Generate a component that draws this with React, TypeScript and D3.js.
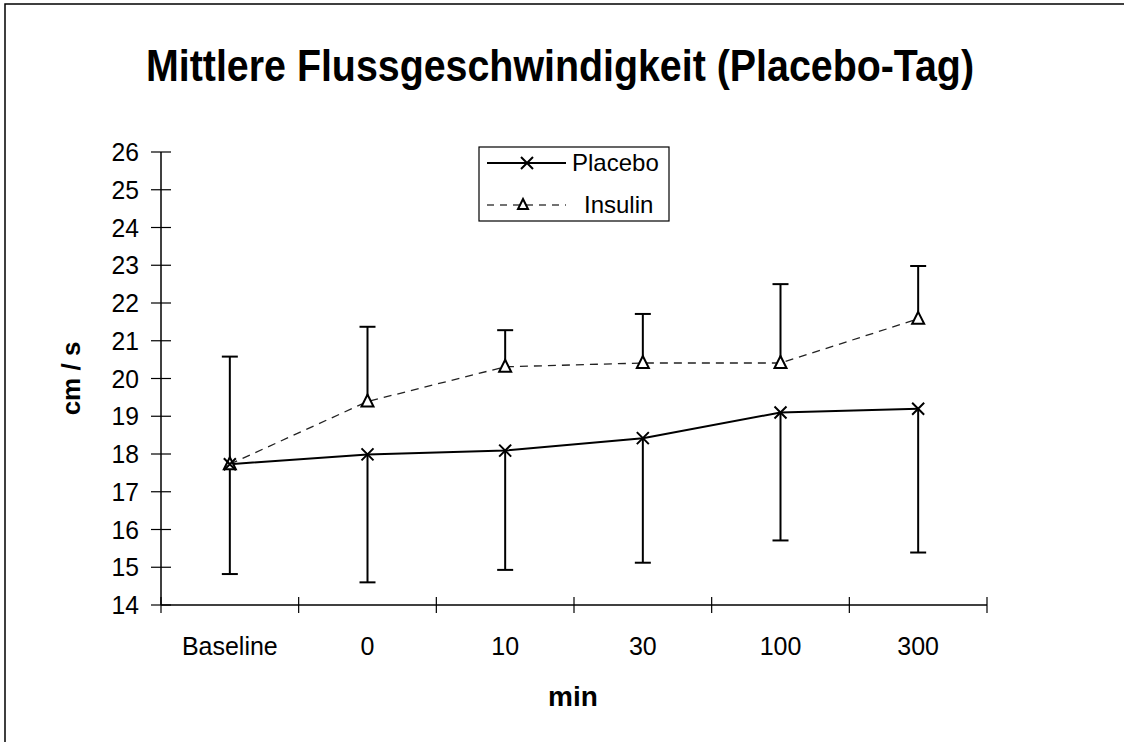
import React from "react";
import * as d3 from "d3";

const categories = ["Baseline", "0", "10", "30", "100", "300"];
const placebo = [17.73, 17.99, 18.09, 18.42, 19.1, 19.2];
const insulin = [17.73, 19.39, 20.31, 20.41, 20.41, 21.58];
// Placebo error bars go down, insulin error bars go up
const placeboLow = [14.82, 14.6, 14.93, 15.12, 15.71, 15.39];
const insulinHigh = [20.58, 21.37, 21.28, 21.71, 22.5, 22.98];
const yTicks = [14, 15, 16, 17, 18, 19, 20, 21, 22, 23, 24, 25, 26];

const W = 1124;
const H = 742;
const plot = { left: 161, right: 987, top: 152, bottom: 605 };
const font = "Arial, 'Liberation Sans', sans-serif";

const Cross = ({ x, y, s = 6 }: { x: number; y: number; s?: number }) => (
  <path
    d={`M${x - s},${y - s}L${x + s},${y + s}M${x - s},${y + s}L${x + s},${y - s}`}
    stroke="#000"
    strokeWidth={2}
  />
);

const Tri = ({ x, y, s = 6 }: { x: number; y: number; s?: number }) => (
  <path
    d={`M${x},${y - s - 1}L${x + s},${y + s - 1}L${x - s},${y + s - 1}Z`}
    fill="#fff"
    stroke="#000"
    strokeWidth={2}
  />
);

export default function App() {
  const x = d3
    .scaleBand()
    .domain(categories)
    .range([plot.left, plot.right])
    .padding(0);
  const y = d3.scaleLinear().domain([14, 26]).range([plot.bottom, plot.top]);
  const cx = (c: string) => (x(c) as number) + x.bandwidth() / 2;

  const line = d3
    .line<number>()
    .x((_, i) => cx(categories[i]))
    .y((d) => y(d));

  const bounds = categories.map((c) => x(c) as number).concat([plot.right]);

  return (
    <svg
      width={W}
      height={H}
      style={{ position: "absolute", left: 0, top: 0, background: "#fff", overflow: "hidden" }}
    >
      <rect x={5} y={4} width={1300} height={900} fill="#fff" stroke="#000" strokeWidth={1.5} />

      <text
        x={560}
        y={81}
        textAnchor="middle"
        fontFamily={font}
        fontWeight="bold"
        fontSize={44}
        textLength={828}
        lengthAdjust="spacingAndGlyphs"
      >
        Mittlere Flussgeschwindigkeit (Placebo-Tag)
      </text>

      {/* y axis */}
      <line x1={plot.left} x2={plot.left} y1={plot.top} y2={plot.bottom} stroke="#000" strokeWidth={1.5} />
      {yTicks.map((t) => (
        <g key={t}>
          <line x1={plot.left - 10} x2={plot.left + 10} y1={y(t)} y2={y(t)} stroke="#000" strokeWidth={1.2} />
          <text
            transform={`translate(139, ${y(t) + 9}) scale(0.95, 1)`}
            textAnchor="end"
            fontFamily={font}
            fontSize={26}
          >
            {t}
          </text>
        </g>
      ))}

      {/* x axis */}
      <line x1={plot.left} x2={plot.right} y1={plot.bottom} y2={plot.bottom} stroke="#000" strokeWidth={1.5} />
      {bounds.map((b, i) => (
        <line key={i} x1={b} x2={b} y1={plot.bottom - 8} y2={plot.bottom + 8} stroke="#000" strokeWidth={1.2} />
      ))}
      {categories.map((c) => (
        <text key={c} x={cx(c)} y={655} textAnchor="middle" fontFamily={font} fontSize={25}>
          {c}
        </text>
      ))}

      <text x={573} y={706} textAnchor="middle" fontFamily={font} fontWeight="bold" fontSize={28}>
        min
      </text>
      <text
        transform={`translate(80, ${(plot.top + plot.bottom) / 2}) rotate(-90)`}
        textAnchor="middle"
        fontFamily={font}
        fontWeight="bold"
        fontSize={26}
      >
        cm / s
      </text>

      {/* error bars */}
      {categories.map((c, i) => (
        <g key={"e" + c} stroke="#000" strokeWidth={2}>
          <line x1={cx(c)} x2={cx(c)} y1={y(placebo[i])} y2={y(placeboLow[i])} />
          <line x1={cx(c) - 8} x2={cx(c) + 8} y1={y(placeboLow[i])} y2={y(placeboLow[i])} />
          <line x1={cx(c)} x2={cx(c)} y1={y(insulin[i])} y2={y(insulinHigh[i])} />
          <line x1={cx(c) - 8} x2={cx(c) + 8} y1={y(insulinHigh[i])} y2={y(insulinHigh[i])} />
        </g>
      ))}

      <path d={line(insulin) || ""} fill="none" stroke="#222" strokeWidth={1.3} strokeDasharray="8,6" />
      <path d={line(placebo) || ""} fill="none" stroke="#000" strokeWidth={2} />

      {categories.map((c, i) => (
        <Tri key={"t" + c} x={cx(c)} y={y(insulin[i])} />
      ))}
      {categories.map((c, i) => (
        <Cross key={"x" + c} x={cx(c)} y={y(placebo[i])} />
      ))}

      {/* legend */}
      <rect x={479} y={147} width={190} height={74} fill="#fff" stroke="#000" strokeWidth={1.2} />
      <line x1={487} x2={566} y1={163} y2={163} stroke="#000" strokeWidth={2} />
      <Cross x={527} y={163} s={6} />
      <text x={572} y={171} fontFamily={font} fontSize={24}>
        Placebo
      </text>
      <line x1={487} x2={566} y1={205} y2={205} stroke="#444" strokeWidth={1.3} strokeDasharray="7,6" />
      <Tri x={523} y={205} s={5} />
      <text x={584} y={213} fontFamily={font} fontSize={24}>
        Insulin
      </text>
    </svg>
  );
}
